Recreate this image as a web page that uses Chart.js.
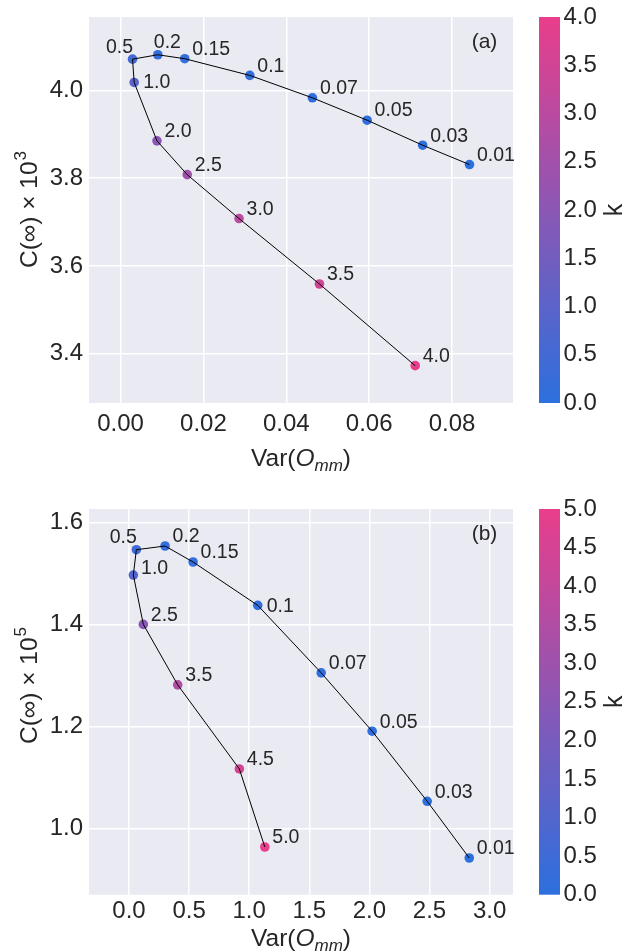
<!DOCTYPE html>
<html><head><meta charset="utf-8">
<script src="https://cdn.jsdelivr.net/npm/chart.js@4.4.1/dist/chart.umd.min.js"></script>
<style>
html,body{margin:0;padding:0;background:#fff;}
canvas{display:block;}
</style></head><body>
<canvas id="ca" width="635" height="476"></canvas>
<canvas id="cb" width="635" height="476"></canvas>
<script>
// ---------- Panel (a) data ----------
const kLabelsA = ['0.01','0.03','0.05','0.07','0.1','0.15','0.2','0.5','1.0','2.0','2.5','3.0','3.5','4.0'];
const kValuesA = [0.01, 0.03, 0.05, 0.07, 0.1, 0.15, 0.2, 0.5, 1.0, 2.0, 2.5, 3.0, 3.5, 4.0];
const varA = [0.0842, 0.0729, 0.0595, 0.0463, 0.0312, 0.0155, 0.0090, 0.0029, 0.0033, 0.0088, 0.0161, 0.0286, 0.0480, 0.0711];
const cA = [3.831, 3.875, 3.932, 3.983, 4.034, 4.072, 4.081, 4.071, 4.018, 3.885, 3.808, 3.708, 3.559, 3.373];
const xTicksA = [0.00, 0.02, 0.04, 0.06, 0.08];
const yTicksA = [3.4, 3.6, 3.8, 4.0];
const kTicksA = [0.0, 0.5, 1.0, 1.5, 2.0, 2.5, 3.0, 3.5, 4.0];

// ---------- Panel (b) data ----------
const kLabelsB = ['0.01','0.03','0.05','0.07','0.1','0.15','0.2','0.5','1.0','2.5','3.5','4.5','5.0'];
const kValuesB = [0.01, 0.03, 0.05, 0.07, 0.1, 0.15, 0.2, 0.5, 1.0, 2.5, 3.5, 4.5, 5.0];
const varB = [2.831, 2.481, 2.023, 1.599, 1.071, 0.533, 0.300, 0.061, 0.036, 0.119, 0.405, 0.918, 1.130];
const cB = [0.9425, 1.0535, 1.1908, 1.3051, 1.4373, 1.5222, 1.5535, 1.5463, 1.4967, 1.400, 1.2816, 1.1169, 0.964];
const xTicksB = [0.0, 0.5, 1.0, 1.5, 2.0, 2.5, 3.0];
const yTicksB = [1.0, 1.2, 1.4, 1.6];
const kTicksB = [0.0, 0.5, 1.0, 1.5, 2.0, 2.5, 3.0, 3.5, 4.0, 4.5, 5.0];

// ---------- styling ----------
const FONT = '"Liberation Sans", Arial, sans-serif';
const TEXT = '#262626';
const C0 = [44, 112, 222], C1 = [233, 62, 139];
function cmap(t) {
  t = Math.max(0, Math.min(1, t));
  const c = C0.map((v, i) => Math.round(v + (C1[i] - v) * t));
  return `rgb(${c[0]},${c[1]},${c[2]})`;
}
// label placement overrides: [align, dx, dy]
const labelStyleA = { '0.5': ['right', 0.5, -6.5], '0.2': ['left', -4, -7], '1.0': ['left', 9, 6] };
const labelStyleB = { '0.5': ['right', 0.5, -6.5], '1.0': ['left', 7.7, -1.3], '0.1': ['left', 9, 7] };

function zeroPad(s) { s.paddingTop = 0; s.paddingBottom = 0; s.paddingLeft = 0; s.paddingRight = 0; }

function makePanel(id, P) {
  const pts = P.xs.map((x, i) => ({ x, y: P.ys[i] }));
  const colors = P.ks.map(k => cmap(k / P.kMax));
  const plugin = {
    id: 'deco' + id,
    beforeDraw(chart) {
      const { ctx, chartArea: a } = chart;
      ctx.save();
      ctx.fillStyle = '#EAEAF2';
      ctx.fillRect(a.left, a.top, a.right - a.left, a.bottom - a.top);
      ctx.restore();
    },
    afterDraw(chart) {
      const { ctx, chartArea: a } = chart;
      const sx = chart.scales.x, sy = chart.scales.y, sk = chart.scales.k;
      ctx.save();
      // colorbar
      const y0 = sk.getPixelForValue(0), y1 = sk.getPixelForValue(P.kMax);
      const g = ctx.createLinearGradient(0, y0, 0, y1);
      g.addColorStop(0, cmap(0)); g.addColorStop(1, cmap(1));
      ctx.fillStyle = g;
      ctx.fillRect(539, y1, 21, y0 - y1);
      // point labels
      ctx.fillStyle = TEXT;
      ctx.font = `19.5px ${FONT}`;
      ctx.textBaseline = 'alphabetic';
      P.labels.forEach((lab, i) => {
        const st = P.labelStyle[lab] || ['left', 7.5, -3.7];
        ctx.textAlign = st[0];
        ctx.fillText(lab, sx.getPixelForValue(P.xs[i]) + st[1], sy.getPixelForValue(P.ys[i]) + st[2]);
      });
      // panel tag
      ctx.font = `21px ${FONT}`;
      ctx.textAlign = 'right';
      ctx.fillText(P.tag, a.right - 15.7, a.top + 31);
      // y title
      ctx.save();
      ctx.translate(37, P.yTitleCenter);
      ctx.rotate(-Math.PI / 2);
      ctx.font = `24.5px ${FONT}`;
      const main = 'C(∞) × 10';
      const w1 = ctx.measureText(main).width;
      ctx.font = `17px ${FONT}`;
      const w2 = ctx.measureText(P.expo).width;
      const st = -(w1 + w2) / 2;
      ctx.textAlign = 'left';
      ctx.font = `24.5px ${FONT}`;
      ctx.fillText(main, st, 0);
      ctx.font = `17px ${FONT}`;
      ctx.fillText(P.expo, st + w1 + 1, -11);
      ctx.restore();
      // x title: Var(O_mm)
      const parts = [
        ['Var(', `24.5px ${FONT}`, 0],
        ['O', `italic 24.5px ${FONT}`, 0],
        ['mm', `italic 17px ${FONT}`, 5],
        [')', `24.5px ${FONT}`, 0]
      ];
      let tw = 0;
      parts.forEach(p => { ctx.font = p[1]; p.push(ctx.measureText(p[0]).width); tw += p[3]; });
      let xx = (a.left + a.right) / 2 - tw / 2;
      ctx.textAlign = 'left';
      parts.forEach(p => { ctx.font = p[1]; ctx.fillText(p[0], xx, P.xTitleBase + p[2]); xx += p[3]; });
      // colorbar title k
      ctx.save();
      ctx.translate(622, (a.top + a.bottom) / 2);
      ctx.rotate(-Math.PI / 2);
      ctx.font = `25px ${FONT}`;
      ctx.textAlign = 'center';
      ctx.fillText('k', 0, 0);
      ctx.restore();
      ctx.restore();
    }
  };
  const tickFont = { family: FONT, size: 24 };
  return new Chart(document.getElementById(id), {
    type: 'scatter',
    data: {
      datasets: [
        { data: pts, showLine: true, borderColor: '#000', borderWidth: 1, pointRadius: 0, order: 0, tension: 0 },
        { data: pts, showLine: false, pointRadius: 4.8, pointBackgroundColor: colors, pointBorderWidth: 0, order: 1 }
      ]
    },
    options: {
      responsive: false, animation: false, events: [],
      layout: { padding: { top: P.top, left: 0, right: 0, bottom: 0 } },
      plugins: { legend: { display: false }, tooltip: { enabled: false } },
      scales: {
        x: {
          type: 'linear', position: 'bottom', min: P.xMin, max: P.xMax,
          grid: { color: '#fff', lineWidth: 1.5, drawTicks: false },
          border: { display: false },
          ticks: { font: tickFont, color: TEXT, padding: P.xPad, includeBounds: false, maxRotation: 0,
                   callback: v => v.toFixed(P.xDec) },
          afterBuildTicks: s => { s.ticks = P.xTicks.map(v => ({ value: v })); },
          afterFit: s => { s.height = P.xAxisH; zeroPad(s); }
        },
        y: {
          type: 'linear', position: 'left', min: P.yMin, max: P.yMax,
          grid: { color: '#fff', lineWidth: 1.5, drawTicks: false },
          border: { display: false },
          ticks: { font: tickFont, color: TEXT, padding: 6, includeBounds: false,
                   callback: v => v.toFixed(1) },
          afterBuildTicks: s => { s.ticks = P.yTicks.map(v => ({ value: v })); },
          afterFit: s => { s.width = 89; zeroPad(s); }
        },
        k: {
          type: 'linear', position: 'right', min: 0, max: P.kMax,
          grid: { display: false, drawTicks: false },
          border: { display: false },
          ticks: { font: tickFont, color: TEXT, padding: 50.5, includeBounds: false,
                   callback: v => v.toFixed(1) },
          afterBuildTicks: s => { s.ticks = P.kTicks.map(v => ({ value: v })); },
          afterFit: s => { s.width = 122; zeroPad(s); }
        }
      }
    },
    plugins: [plugin]
  });
}

makePanel('ca', {
  xs: varA, ys: cA, ks: kValuesA, labels: kLabelsA, kMax: 4, labelStyle: labelStyleA,
  xTicks: xTicksA, yTicks: yTicksA, kTicks: kTicksA, xDec: 2,
  xMin: -0.0076, xMax: 0.0947, yMin: 3.288, yMax: 4.167,
  top: 17, xAxisH: 73, xPad: 7, xTitleBase: 466, yTitleCenter: 210, tag: '(a)', expo: '3'
});
makePanel('cb', {
  xs: varB, ys: cB, ks: kValuesB, labels: kLabelsB, kMax: 5, labelStyle: labelStyleB,
  xTicks: xTicksB, yTicks: yTicksB, kTicks: kTicksB, xDec: 1,
  xMin: -0.333, xMax: 3.195, yMin: 0.8706, yMax: 1.626,
  top: 33, xAxisH: 57.3, xPad: 2, xTitleBase: 469.5, yTitleCenter: 210, tag: '(b)', expo: '5'
});
</script>
</body></html>
